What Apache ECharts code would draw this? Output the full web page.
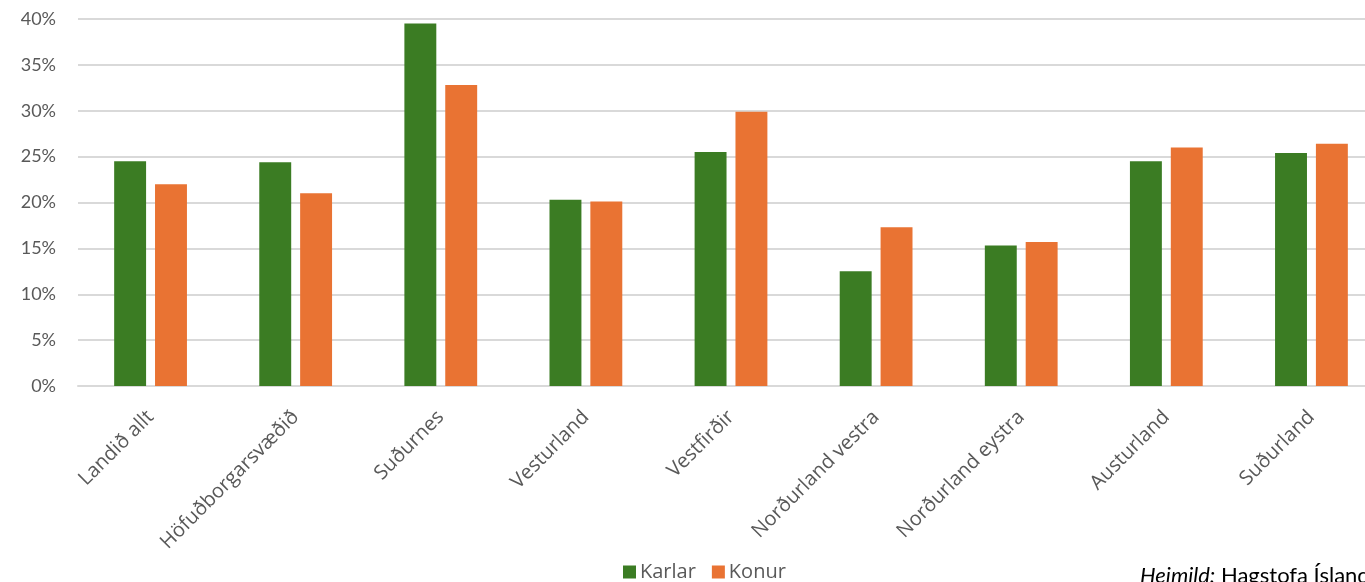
<!DOCTYPE html>
<html>
<head>
<meta charset="utf-8">
<script src="https://cdn.jsdelivr.net/npm/echarts@6/dist/echarts.min.js"></script>
<style>
html,body{margin:0;padding:0;background:#fff;overflow:hidden;width:1365px;height:582px;}
#chart{width:1384px;height:582px;}
</style>
</head>
<body>
<div id="chart"></div>
<script>
const categories = ['Landið allt','Höfuðborgarsvæðið','Suðurnes','Vesturland','Vestfirðir','Norðurland vestra','Norðurland eystra','Austurland','Suðurland'];
const karlar = [24.5, 24.4, 39.5, 20.3, 25.5, 12.5, 15.3, 24.5, 25.4];
const konur  = [22.0, 21.0, 32.8, 20.1, 29.9, 17.3, 15.7, 26.0, 26.4];
const yTicks = [0, 5, 10, 15, 20, 25, 30, 35, 40];

const chart = echarts.init(document.getElementById('chart'));
const font = 'Lato, "Open Sans", sans-serif';
const xfont = '"Open Sans", Lato, sans-serif';
chart.setOption({
  animation: false,
  grid: {left: 78, right: 0, top: 19, bottom: 196, containLabel: false},
  legend: {
    data: ['Karlar','Konur'],
    left: 618, top: 557,
    itemWidth: 13, itemHeight: 13, itemGap: 16,
    icon: 'rect',
    textStyle: {color: '#595959', fontSize: 20, fontFamily: xfont, padding: [0,0,0,-1]}
  },
  xAxis: {
    type: 'category',
    data: categories,
    axisLine: {lineStyle: {color: '#d9d9d9', width: 2}},
    axisTick: {show: false},
    axisLabel: {rotate: 45, color: '#595959', fontSize: 20, fontFamily: xfont, margin: 28, interval: 0}
  },
  yAxis: {
    type: 'value',
    min: yTicks[0], max: yTicks[yTicks.length-1], interval: 5,
    axisLine: {show: false},
    axisTick: {show: false},
    splitLine: {lineStyle: {color: '#d9d9d9', width: 2}},
    axisLabel: {formatter: v => v + '%', color: '#595959', fontSize: 18, fontFamily: font, margin: 22}
  },
  series: [
    {name: 'Karlar', type: 'bar', data: karlar, barWidth: '22%', barGap: '28%',
     itemStyle: {color: '#3b7c23'}},
    {name: 'Konur', type: 'bar', data: konur, barWidth: '22%',
     itemStyle: {color: '#e97333'}}
  ],
  graphic: [{
    type: 'text', left: 1140, top: 565,
    style: {
      text: '{i|Heimild:} Hagstofa Íslands',
      rich: {i: {fontStyle: 'italic', fontSize: 22, fontFamily: font, fill: '#000'}},
      fontSize: 22, fontFamily: font, fill: '#000'
    }
  }]
});
</script>
</body>
</html>
